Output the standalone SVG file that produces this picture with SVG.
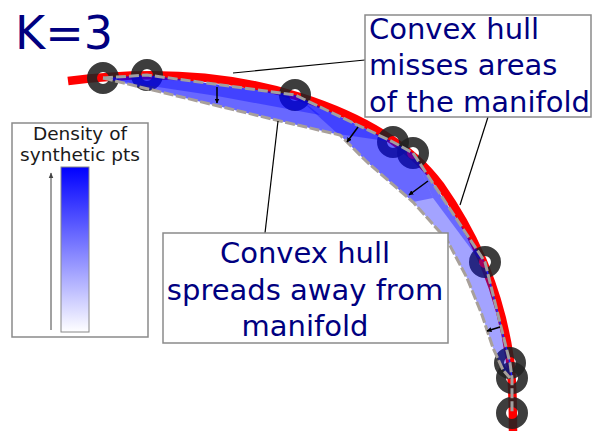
<svg xmlns="http://www.w3.org/2000/svg" width="592" height="431" viewBox="0 0 592 431">
<defs>
<style>
.hull{fill:#0000ff;fill-opacity:0.36;stroke:none}
.ring{fill:none;stroke:#222;stroke-opacity:0.88;stroke-width:10}
.lead{stroke:#000;stroke-width:1.2;fill:none}
.box{fill:#fff;stroke:#8a8a8a;stroke-width:1.5}
.big{font-family:"DejaVu Sans",sans-serif;font-size:29px;fill:#000080}
.small{font-family:"DejaVu Sans",sans-serif;font-size:18.5px;fill:#1a1a1a}
.arr{stroke:#000;stroke-width:1.5;fill:none;marker-end:url(#ah)}
</style>
<marker id="ah" viewBox="0 0 10 10" refX="9" refY="5" markerWidth="5" markerHeight="5" orient="auto" markerUnits="userSpaceOnUse">
<path d="M0,0 L10,5 L0,10 z" fill="#000"/>
</marker>
<marker id="ah2" viewBox="0 0 10 10" refX="9" refY="5" markerWidth="6" markerHeight="6" orient="auto" markerUnits="userSpaceOnUse">
<path d="M0,1 L10,5 L0,9 z" fill="#444"/>
</marker>
<linearGradient id="dens" x1="0" y1="0" x2="0" y2="1">
<stop offset="0" stop-color="#0000ff"/>
<stop offset="1" stop-color="#ffffff"/>
</linearGradient>
</defs>
<rect width="592" height="431" fill="#fff"/>

<text id="title" x="15" y="49" font-family="DejaVu Sans, sans-serif" font-size="46" fill="#000080">K=3</text>

<g id="manifold">
<path d="M68,81 C150,70 230,75 300,97 C360,116 410,145 440,185 C475,235 500,290 510,360 C513,385 513,410 513,431" fill="none" stroke="#ff0000" stroke-width="8.5"/>
</g>

<g id="points">
<circle class="ring" cx="103" cy="78" r="11"/>
<circle class="ring" cx="147" cy="75" r="11"/>
<circle class="ring" cx="295" cy="95" r="11"/>
<circle class="ring" cx="393" cy="142" r="11"/>
<circle class="ring" cx="413" cy="153" r="11"/>
<circle class="ring" cx="485" cy="262" r="11"/>
<circle class="ring" cx="510" cy="363" r="11"/>
<circle class="ring" cx="512" cy="378" r="11"/>
<circle class="ring" cx="512" cy="413" r="11"/>
</g>

<g id="hull">
<polygon class="hull" points="103,78 147,75 295,95 393,142 413,153 485,262 510,363 512,378 503,370 493,348 482,315 467,278 447,240 413,202 367,162 340,135 280,121"/>
<polygon class="hull" points="103,78 147,75 295,95 393,142 413,153 433,198 413,202 367,162 340,135 280,121"/>
<polygon class="hull" points="105,79 147,75 295,95 320,115 217,96"/>
<polygon class="hull" points="295,95 393,142 338,134"/>
<polygon class="hull" points="413,153 485,262 477,257 433,198"/>
<polygon class="hull" points="485,262 510,363 495,305"/>
<polyline points="103,78 280,121 340,135 367,162 413,202 447,240 467,278 482,315 493,348 503,370 510,378" fill="none" stroke="#a8a09a" stroke-width="3" stroke-dasharray="10 2.5"/>
<polyline points="485,262 510,363 512,378" fill="none" stroke="#2020ff" stroke-width="1.5"/>
</g>

<g id="connectors">
<polyline points="103,78 147,75 295,95 393,142 413,153 485,262 510,363 512,378 512,413" fill="none" stroke="#a0a0a0" stroke-width="3" stroke-dasharray="10 3"/>
<line class="arr" x1="217" y1="87" x2="217" y2="103"/>
<line class="arr" x1="358" y1="127" x2="347" y2="142"/>
<line class="arr" x1="428" y1="181" x2="409" y2="195"/>
<line class="arr" x1="500" y1="327" x2="487" y2="331"/>
<line class="lead" x1="233" y1="73" x2="365" y2="60"/>
<line class="lead" x1="488" y1="117" x2="460" y2="205"/>
<line class="lead" x1="278" y1="121" x2="265" y2="233"/>
</g>

<g id="box-misses">
<rect class="box" x="365" y="15" width="226" height="102"/>
<text class="big" x="369" y="39">Convex hull</text>
<text class="big" x="369" y="75">misses areas</text>
<text class="big" x="369" y="112">of the manifold</text>
</g>

<g id="box-spreads">
<rect class="box" x="163" y="233" width="285" height="110"/>
<text class="big" x="305" y="263" text-anchor="middle">Convex hull</text>
<text class="big" x="305" y="300" text-anchor="middle">spreads away from</text>
<text class="big" x="305" y="336" text-anchor="middle">manifold</text>
</g>

<g id="legend">
<rect class="box" x="12" y="123" width="136" height="214"/>
<text class="small" x="80" y="140" text-anchor="middle">Density of</text>
<text class="small" x="80" y="161" text-anchor="middle">synthetic pts</text>
<rect x="61" y="167" width="28" height="165" fill="url(#dens)" stroke="#888" stroke-width="1"/>
<line x1="51" y1="330" x2="51" y2="173" stroke="#444" stroke-width="1" marker-end="url(#ah2)"/>
</g>
</svg>
